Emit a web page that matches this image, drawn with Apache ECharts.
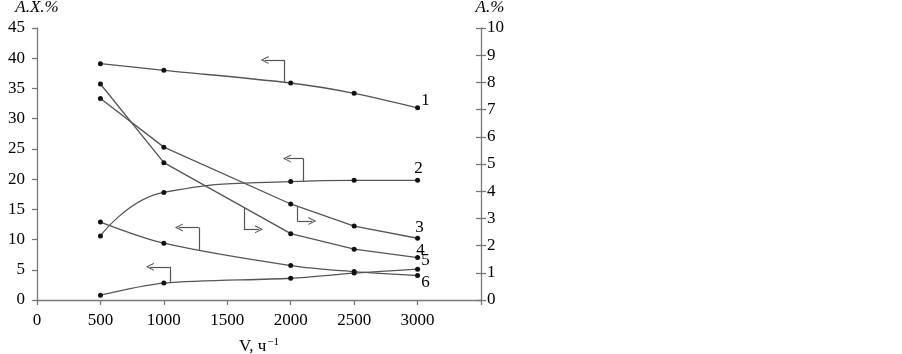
<!DOCTYPE html>
<html>
<head>
<meta charset="utf-8">
<script src="https://cdn.jsdelivr.net/npm/echarts@6/dist/echarts.min.js"></script>
<style>
  html, body { margin: 0; padding: 0; background: #fff; }
  #chart { width: 902px; height: 354px; }
</style>
</head>
<body>
<div id="chart"></div>
<script>
// V, ч-1
var speeds = [500, 1000, 2000, 2500, 3000];
// left axis, A.X.%
var curve1 = [39.1, 38.0, 35.9, 34.2, 31.8];
var curve2 = [10.6, 17.8, 19.6, 19.8, 19.8];
var curve5 = [0.8, 2.8, 3.6, 4.45, 5.1];
var curve6 = [12.9, 9.4, 5.7, 4.7, 4.05];
// right axis, A.%
var curve3 = [7.41, 5.62, 3.53, 2.72, 2.27];
var curve4 = [7.94, 5.05, 2.44, 1.87, 1.56];

var leftTicks = [0, 45, 5];
var rightTicks = [0, 10, 1];
var xTicks = [0, 3500, 500];

var serif = 'Liberation Serif';
var lineColor = '#555';
var axisColor = '#777';
var chev = 'path://M5,0L10,10L8.6,10L5,2.8L1.4,10L0,10Z';

// arrow: [x on curve, y on curve, y of corner, x of head]
function arrow(a) {
  return [
    [{coord: [a[0], a[1]], symbol: 'none'}, {coord: [a[0], a[2]], symbol: 'none'}],
    [{coord: [a[0], a[2]], symbol: 'none'}, {coord: [a[3], a[2]], symbol: chev}]
  ];
}

function pairs(ys) {
  return speeds.map(function (x, i) { return [x, ys[i]]; });
}

function curve(name, ys, axis, smooth, arr, lab) {
  var data = pairs(ys);
  var last = data.length - 1;
  data[last] = {
    value: data[last],
    label: {
      show: true, position: 'inside', formatter: name, offset: lab,
      fontFamily: serif, fontSize: 17, color: '#000'
    }
  };
  return {
    name: name,
    type: 'line',
    yAxisIndex: axis,
    smooth: smooth,
    symbol: 'circle',
    symbolSize: 5,
    itemStyle: {color: '#111'},
    lineStyle: {color: lineColor, width: 1.3},
    data: data,
    markLine: {
      silent: true,
      animation: false,
      symbolSize: [8, 8],
      label: {show: false},
      lineStyle: {color: lineColor, width: 1.2, type: 'solid'},
      emphasis: {disabled: true},
      data: arrow(arr)
    }
  };
}

var chart = echarts.init(document.getElementById('chart'));
var option = {
  animation: false,
  grid: {left: 37, right: 421, top: 28, bottom: 54, containLabel: false, outerBoundsMode: 'none'},
  xAxis: {
    type: 'value',
    min: xTicks[0], max: xTicks[1], interval: xTicks[2],
    name: '{a|V, ч}{s|−1}',
    nameLocation: 'middle',
    nameGap: 37,
    nameTextStyle: {
      rich: {
        a: {fontFamily: serif, fontSize: 17, color: '#000'},
        s: {fontFamily: serif, fontSize: 11, color: '#000', padding: [0, 0, 9, 1]}
      }
    },
    axisLine: {show: true, lineStyle: {color: axisColor, width: 1.3}},
    axisTick: {show: true, length: 5, lineStyle: {color: axisColor, width: 1.3}},
    axisLabel: {
      margin: 12, fontFamily: serif, fontSize: 17, color: '#000',
      formatter: function (v) { return v > 3000 ? '' : String(v); }
    },
    splitLine: {show: false}
  },
  yAxis: [
    {
      type: 'value', position: 'left',
      min: leftTicks[0], max: leftTicks[1], interval: leftTicks[2],
      name: 'A.X.%', nameLocation: 'end', nameGap: 12,
      nameTextStyle: {fontFamily: serif, fontSize: 17, fontStyle: 'italic', color: '#000'},
      axisLine: {show: true, lineStyle: {color: axisColor, width: 1.3}},
      axisTick: {show: true, length: 5, lineStyle: {color: axisColor, width: 1.3}},
      axisLabel: {margin: 12, fontFamily: serif, fontSize: 17, color: '#000'},
      splitLine: {show: false}
    },
    {
      type: 'value', position: 'right',
      min: rightTicks[0], max: rightTicks[1], interval: rightTicks[2],
      name: 'A.%', nameLocation: 'end', nameGap: 12,
      nameTextStyle: {fontFamily: serif, fontSize: 17, fontStyle: 'italic', color: '#000', padding: [0, 0, 0, 18]},
      axisLine: {show: true, lineStyle: {color: axisColor, width: 1.3}},
      axisTick: {show: true, length: 5, lineStyle: {color: axisColor, width: 1.3}},
      axisLabel: {margin: 6, fontFamily: serif, fontSize: 17, color: '#000'},
      splitLine: {show: false}
    },
    {
      type: 'value', position: 'right',
      min: rightTicks[0], max: rightTicks[1], interval: rightTicks[2],
      axisLine: {show: false},
      axisTick: {show: true, inside: true, length: 5, lineStyle: {color: axisColor, width: 1.3}},
      axisLabel: {show: false},
      splitLine: {show: false}
    }
  ],
  series: [
    curve('1', curve1, 0, 0.3, [1950, 36.1, 39.7, 1795], [8, -7]),
    curve('2', curve2, 0, 0.5, [2100, 19.65, 23.4, 1970], [1, -12]),
    curve('3', curve3, 1, false, [2053, 3.44, 2.9, 2170], [2, -11]),
    curve('4', curve4, 1, false, [1630, 3.41, 2.6, 1750], [3, -7]),
    curve('5', curve5, 0, 0.3, [1047, 2.85, 5.5, 890], [8, -9]),
    curve('6', curve6, 0, 0.3, [1276, 8.3, 12.0, 1118], [8, 7])
  ]
};
chart.setOption(option);
</script>
</body>
</html>
